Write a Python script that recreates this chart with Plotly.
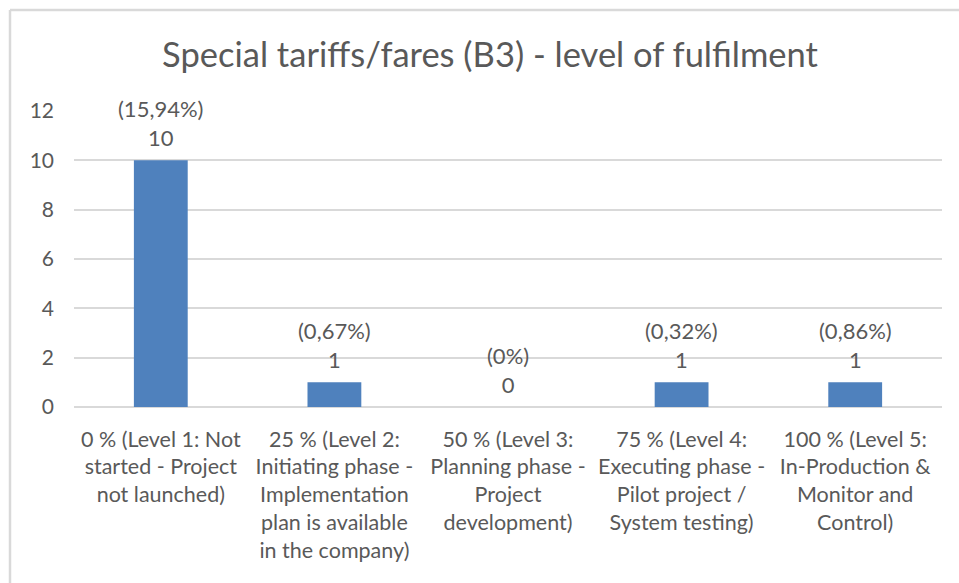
import plotly.graph_objects as go

# Level-of-fulfilment categories and response counts
categories = [
    "0 % (Level 1: Not<br>started - Project<br>not launched)",
    "25 % (Level 2:<br>Initiating phase -<br>Implementation<br>plan is available<br>in the company)",
    "50 % (Level 3:<br>Planning phase -<br>Project<br>development)",
    "75 % (Level 4:<br>Executing phase -<br>Pilot project /<br>System testing)",
    "100 % (Level 5:<br>In-Production &<br>Monitor and<br>Control)",
]
counts = [10, 1, 0, 1, 1]
shares = ["(15,94%)", "(0,67%)", "(0%)", "(0,32%)", "(0,86%)"]
y_ticks = [0, 2, 4, 6, 8, 10, 12]

FONT = "Lato"
TEXT = "#595959"
GRID = "#d9d9d9"

x_pos = list(range(len(categories)))

fig = go.Figure()
fig.add_trace(go.Bar(
    x=x_pos,
    y=counts,
    marker=dict(color="#4f81bd", line=dict(width=0)),
    width=0.31,
    hoverinfo="skip",
))

# Value labels above each bar: share on the first line, count below
for xi, c, s in zip(x_pos, counts, shares):
    fig.add_annotation(
        x=xi, y=c, xref="x", yref="y",
        text=f"{s}<br>{c}",
        showarrow=False, yanchor="bottom", yshift=7,
        font=dict(family=FONT, size=22, color=TEXT),
    )

# Chart frame (top and left edges)
frame_top = (583 - 10 - 176) / 296
frame_left = -64 / 868
fig.add_shape(type="line", xref="paper", yref="paper",
              x0=frame_left, x1=1.1, y0=frame_top, y1=frame_top,
              line=dict(color="#d9d9d9", width=2.5))
fig.add_shape(type="line", xref="paper", yref="paper",
              x0=frame_left, x1=frame_left, y0=-1, y1=frame_top,
              line=dict(color="#d9d9d9", width=2.5))

fig.update_layout(
    width=959, height=583,
    margin=dict(l=74, r=17, t=111, b=176),
    paper_bgcolor="white", plot_bgcolor="white",
    showlegend=False,
    title=dict(
        text="Special tariffs/fares (B3) - level of fulfilment",
        x=490/959, xanchor="center", y=1-55/583, yanchor="middle",
        xref="container", yref="container",
        font=dict(family=FONT, size=34.5, color=TEXT),
    ),
    xaxis=dict(
        tickvals=x_pos, ticktext=categories,
        range=[-0.5, len(categories) - 0.5],
        showgrid=False, zeroline=False, showline=False, ticks="",
        tickfont=dict(family=FONT, size=21.5, color=TEXT),
        tickangle=0,
        ticklabelstandoff=17,
    ),
    yaxis=dict(
        range=[0, 12], tickvals=y_ticks,
        showgrid=True, gridcolor=GRID, gridwidth=1.5,
        zeroline=True, zerolinecolor=GRID, zerolinewidth=1.5,
        showline=False, ticks="",
        tickfont=dict(family=FONT, size=21, color=TEXT),
        ticklabelstandoff=19,
    ),
)

fig.write_html("out.html")
